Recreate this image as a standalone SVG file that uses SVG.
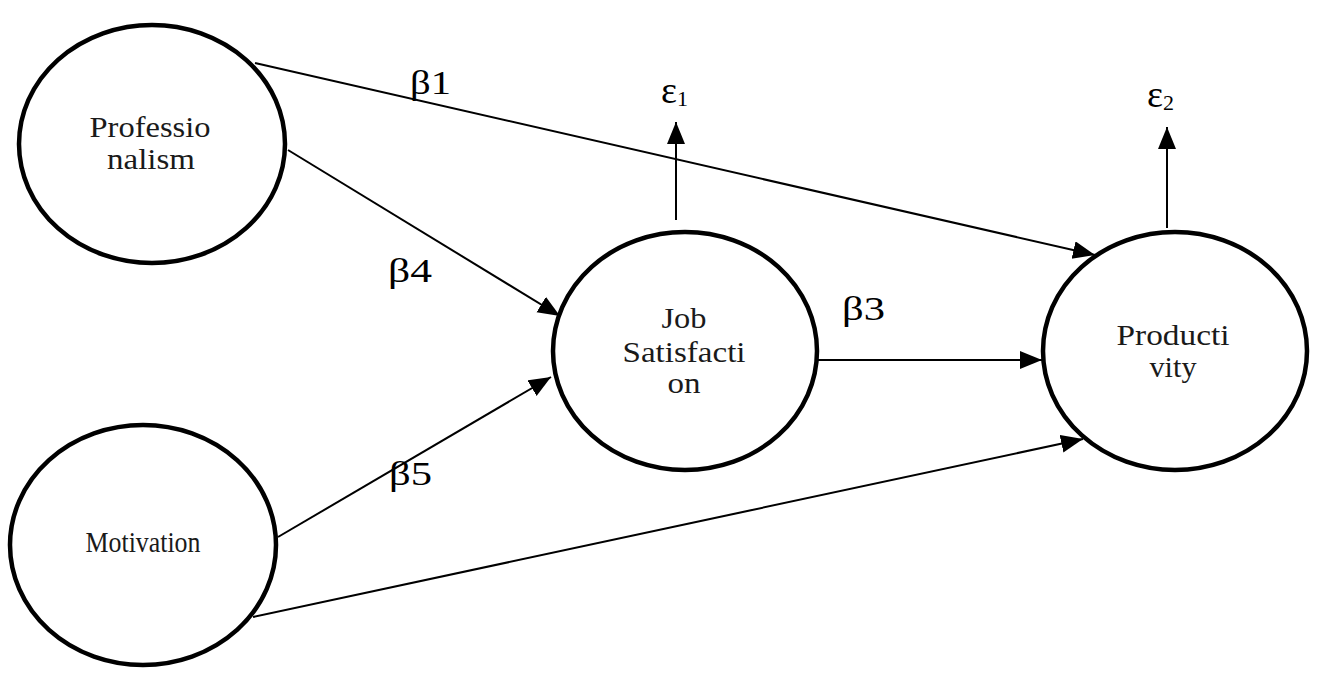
<svg xmlns="http://www.w3.org/2000/svg" width="1325" height="690" viewBox="0 0 1325 690">
<style>
.node{fill:#fff;stroke:#000;stroke-width:4.5}
.lbl{font-family:"Liberation Serif",serif;font-size:29px;fill:#1a1a1a;text-anchor:middle}
.beta{font-family:"Liberation Serif",serif;font-size:34px;fill:#000}
.eps{font-family:"Liberation Serif",serif;font-size:38px;fill:#000}
.sub{font-size:22px}
.con{stroke:#000;stroke-width:2;fill:none;marker-end:url(#ah)}
</style>
<defs>
<marker id="ah" markerUnits="userSpaceOnUse" markerWidth="24" markerHeight="20" refX="22" refY="9" orient="auto">
<path d="M0,0 L22,9 L0,18 Z" fill="#000"/>
</marker>
</defs>
<g id="connectors">
<line class="con" x1="255" y1="63" x2="1095" y2="255"/>
<line class="con" x1="288" y1="150" x2="560" y2="316"/>
<line class="con" x1="278" y1="537" x2="551" y2="377"/>
<line class="con" x1="818" y1="360" x2="1042" y2="360"/>
<line class="con" x1="253" y1="617" x2="1083" y2="439"/>
<line class="con" x1="676" y1="220" x2="676" y2="122"/>
<line class="con" x1="1167" y1="228" x2="1167" y2="127"/>
</g>
<g id="labels">
<text class="beta" x="410" y="94" textLength="41" lengthAdjust="spacingAndGlyphs">β1</text>
<text class="beta" x="388" y="282" textLength="44" lengthAdjust="spacingAndGlyphs">β4</text>
<text class="beta" x="389" y="485" textLength="43" lengthAdjust="spacingAndGlyphs">β5</text>
<text class="beta" x="842" y="320" textLength="43" lengthAdjust="spacingAndGlyphs">β3</text>
<text class="eps" x="661" y="103">ε<tspan class="sub" dy="3">1</tspan></text>
<text class="eps" x="1147" y="107">ε<tspan class="sub" dy="3">2</tspan></text>
</g>
<g id="professionalism">
<ellipse class="node" cx="152" cy="144" rx="133" ry="119"/>
<text class="lbl" x="150" y="137" textLength="121" lengthAdjust="spacingAndGlyphs">Professio</text>
<text class="lbl" x="151" y="169" textLength="88" lengthAdjust="spacingAndGlyphs">nalism</text>
</g>
<g id="motivation">
<ellipse class="node" cx="143" cy="545" rx="133" ry="120"/>
<text class="lbl" x="143" y="552" font-size="21" textLength="115" lengthAdjust="spacingAndGlyphs">Motivation</text>
</g>
<g id="job_satisfaction">
<ellipse class="node" cx="685" cy="351" rx="132" ry="119"/>
<text class="lbl" x="684" y="328" textLength="45" lengthAdjust="spacingAndGlyphs">Job</text>
<text class="lbl" x="684" y="362" textLength="123" lengthAdjust="spacingAndGlyphs">Satisfacti</text>
<text class="lbl" x="684" y="393" textLength="33" lengthAdjust="spacingAndGlyphs">on</text>
</g>
<g id="productivity">
<ellipse class="node" cx="1175" cy="351" rx="132" ry="119"/>
<text class="lbl" x="1173" y="345" textLength="113" lengthAdjust="spacingAndGlyphs">Producti</text>
<text class="lbl" x="1173" y="377" textLength="47" lengthAdjust="spacingAndGlyphs">vity</text>
</g>
</svg>
